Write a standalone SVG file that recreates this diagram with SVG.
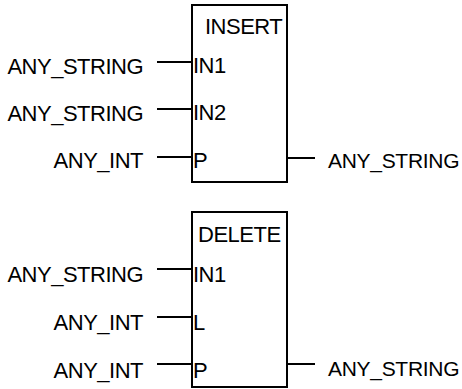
<svg xmlns="http://www.w3.org/2000/svg" width="462" height="389" viewBox="0 0 462 389">
  <style>
    .box { fill: #ffffff; stroke: #000000; stroke-width: 2; }
    .wire { stroke: #000000; stroke-width: 2; fill: none; }
    text { font-family: "Liberation Sans", Arial, sans-serif; font-size: 22px; letter-spacing: -0.5px; fill: #000000; }
    .arg { text-anchor: end; }
    .out { font-size: 21px; letter-spacing: -0.3px; }
  </style>
  <rect width="462" height="389" fill="#ffffff"/>

  <!-- INSERT function block -->
  <g id="insert">
    <rect class="box" x="192" y="5" width="95" height="177"/>
    <text x="205" y="34">INSERT</text>
    <text x="193" y="73">IN1</text>
    <text x="193" y="120">IN2</text>
    <text x="193" y="168">P</text>
    <text class="arg" x="143" y="74">ANY_STRING</text>
    <text class="arg" x="143" y="121">ANY_STRING</text>
    <text class="arg" x="143" y="168">ANY_INT</text>
    <text class="out" x="328" y="168">ANY_STRING</text>
  </g>

  <!-- DELETE function block -->
  <g id="delete">
    <rect class="box" x="192" y="212" width="95" height="175"/>
    <text x="198" y="242">DELETE</text>
    <text x="193" y="282">IN1</text>
    <text x="193" y="330">L</text>
    <text x="193" y="378">P</text>
    <text class="arg" x="143" y="282">ANY_STRING</text>
    <text class="arg" x="143" y="330">ANY_INT</text>
    <text class="arg" x="143" y="378">ANY_INT</text>
    <text class="out" x="328" y="376">ANY_STRING</text>
  </g>

  <!-- input and output wires -->
  <g id="connectors">
    <line class="wire" x1="157" y1="62" x2="192" y2="62"/>
    <line class="wire" x1="157" y1="109" x2="192" y2="109"/>
    <line class="wire" x1="157" y1="157" x2="192" y2="157"/>
    <line class="wire" x1="287" y1="158" x2="315" y2="158"/>
    <line class="wire" x1="157" y1="269" x2="192" y2="269"/>
    <line class="wire" x1="157" y1="317" x2="192" y2="317"/>
    <line class="wire" x1="157" y1="364" x2="192" y2="364"/>
    <line class="wire" x1="287" y1="364" x2="315" y2="364"/>
  </g>
</svg>
